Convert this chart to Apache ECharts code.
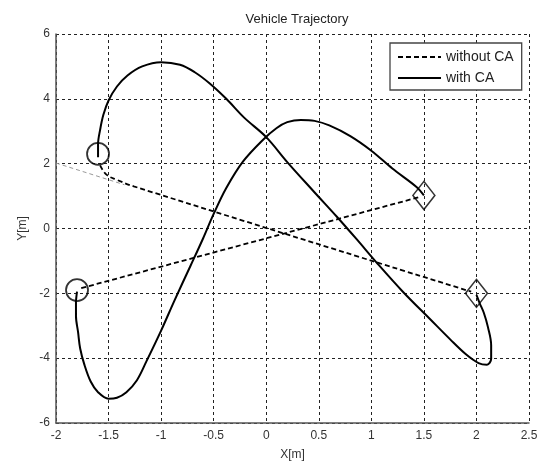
<!DOCTYPE html>
<html>
<head>
<meta charset="utf-8">
<script src="https://cdn.jsdelivr.net/npm/echarts@6/dist/echarts.min.js"></script>
<style>
  html, body { margin: 0; padding: 0; background: #fff; }
  #chart { width: 546px; height: 466px; }
</style>
</head>
<body>
<div id="chart"></div>
<script>
// Axis ranges and tick spacing
const xRange = [-2, 2.5];
const xStep = 0.5;
const yRange = [-6, 6];
const yStep = 2;

// Vehicle start positions (circles) and goal positions (diamonds)
const startPoints = [[-1.6, 2.3], [-1.8, -1.9]];
const goalPoints = [[2.0, -2.0], [1.5, 1.02]];

// Paths without collision avoidance
const withoutCA1 = [[-1.58, 1.95], [-1.52, 1.66], [-1.42, 1.5], [-1.26, 1.3], [1.95, -1.95]];
const withoutCA1Guide = [[-2.0, 2.02], [-1.35, 1.35]];
const withoutCA2 = [[-1.76, -1.84], [1.47, 0.98]];

// Paths with collision avoidance
const withCA1 = [
  [-1.6, 2.2], [-1.6, 2.6], [-1.58, 3.05], [-1.55, 3.5], [-1.5, 3.95], [-1.42, 4.38],
  [-1.32, 4.72], [-1.18, 5.0], [-1.0, 5.13], [-0.82, 5.05], [-0.68, 4.82], [-0.54, 4.48],
  [-0.38, 4.0], [-0.21, 3.42], [0.0, 2.82], [0.2, 2.05], [0.45, 1.15], [0.67, 0.37],
  [0.86, -0.33], [1.05, -1.05], [1.3, -1.95], [1.56, -2.8], [1.75, -3.42], [1.9, -3.88],
  [2.02, -4.15], [2.1, -4.2], [2.14, -4.02], [2.14, -3.6], [2.11, -3.05], [2.07, -2.6],
  [2.03, -2.3], [2.0, -2.05]
];
const withCA2 = [
  [-1.8, -1.95], [-1.81, -2.3], [-1.81, -2.7], [-1.79, -3.2], [-1.77, -3.7], [-1.73, -4.2],
  [-1.67, -4.72], [-1.6, -5.05], [-1.5, -5.25], [-1.42, -5.22], [-1.33, -5.05], [-1.23, -4.68],
  [-1.14, -4.1], [-1.0, -3.15], [-0.87, -2.2], [-0.72, -1.15], [-0.6, -0.3], [-0.5, 0.45],
  [-0.38, 1.25], [-0.22, 2.07], [-0.03, 2.74], [0.1, 3.1], [0.2, 3.28], [0.33, 3.35],
  [0.46, 3.32], [0.6, 3.18], [0.8, 2.85], [1.0, 2.4], [1.2, 1.85], [1.43, 1.28], [1.5, 1.02]
];

const FONT = 'Liberation Sans, Arial, sans-serif';
const gridDash = { color: '#222', width: 1, type: [3, 3] };
const dashLine = { color: '#000', width: 1.8, type: [5, 3] };
const solidLine = { color: '#000', width: 2 };

const chart = echarts.init(document.getElementById('chart'), null, { renderer: 'canvas' });

function pathSeries(name, data, lineStyle, smooth) {
  return {
    name: name,
    type: 'line',
    data: data,
    symbol: 'none',
    smooth: smooth,
    lineStyle: lineStyle,
    itemStyle: { color: lineStyle.color },
    silent: true,
    z: 3
  };
}

chart.setOption({
  animation: false,
  backgroundColor: '#fff',
  title: {
    text: 'Vehicle Trajectory',
    left: 292,
    top: 8,
    textAlign: 'center',
    textStyle: { fontFamily: FONT, fontSize: 13, fontWeight: 'normal', color: '#222' }
  },
  grid: { left: 56, right: 17, top: 34, bottom: 42, containLabel: false },
  legend: {
    data: ['without CA', 'with CA'],
    orient: 'vertical',
    left: 390,
    top: 43,
    itemWidth: 43,
    itemHeight: 14,
    itemGap: 7,
    padding: [7, 8, 5, 7],
    selectedMode: false,
    backgroundColor: '#fff',
    borderColor: '#444',
    borderWidth: 1.3,
    borderRadius: 0,
    itemStyle: { opacity: 0 },
    textStyle: { fontFamily: FONT, fontSize: 14, color: '#222' }
  },
  xAxis: {
    type: 'value',
    min: xRange[0],
    max: xRange[1],
    interval: xStep,
    name: 'X[m]',
    nameLocation: 'middle',
    nameGap: 26,
    nameTextStyle: { fontFamily: FONT, fontSize: 12, color: '#333' },
    axisLine: { show: true, onZero: false, lineStyle: { color: '#555', width: 1.5 } },
    axisTick: { show: false },
    axisLabel: { fontFamily: FONT, fontSize: 12, color: '#333', margin: 7 },
    splitLine: { show: true, lineStyle: gridDash }
  },
  yAxis: {
    type: 'value',
    min: yRange[0],
    max: yRange[1],
    interval: yStep,
    name: 'Y[m]',
    nameLocation: 'middle',
    nameRotate: 90,
    nameGap: 26,
    nameTextStyle: { fontFamily: FONT, fontSize: 12, color: '#333' },
    axisLine: { show: true, onZero: false, lineStyle: { color: '#555', width: 1.5 } },
    axisTick: { show: false },
    axisLabel: { fontFamily: FONT, fontSize: 12, color: '#333', margin: 6 },
    splitLine: { show: true, lineStyle: gridDash }
  },
  series: [
    pathSeries('guide', withoutCA1Guide, { color: '#999', width: 1, type: [4, 3] }, false),
    pathSeries('without CA', withoutCA1, dashLine, 0.4),
    pathSeries('without CA', withoutCA2, dashLine, false),
    pathSeries('with CA', withCA1, solidLine, 0.35),
    pathSeries('with CA', withCA2, solidLine, 0.35),
    {
      name: 'start',
      type: 'scatter',
      data: startPoints,
      symbol: 'circle',
      symbolSize: 22,
      silent: true,
      z: 4,
      itemStyle: { color: 'rgba(0,0,0,0)', borderColor: '#000', borderWidth: 1.8 }
    },
    {
      name: 'goal',
      type: 'scatter',
      data: goalPoints,
      symbol: 'diamond',
      symbolSize: [22, 28],
      silent: true,
      z: 4,
      itemStyle: { color: 'rgba(0,0,0,0)', borderColor: '#000', borderWidth: 1.5 }
    }
  ]
});
</script>
</body>
</html>
